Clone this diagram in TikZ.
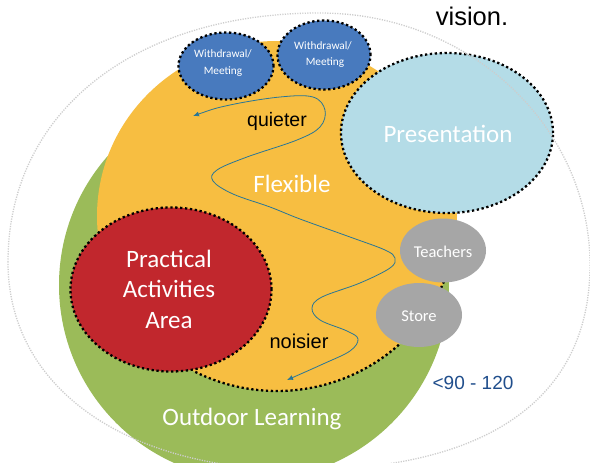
\documentclass[tikz,border=0pt]{standalone}
\usepackage{fontspec}
\setmainfont{Liberation Sans}
\newfontfamily\calib{Carlito}
\usetikzlibrary{shapes.geometric,arrows.meta}
\definecolor{grn}{RGB}{155,187,89}
\definecolor{org}{RGB}{247,190,65}
\definecolor{redc}{RGB}{193,39,45}
\definecolor{bluc}{RGB}{72,122,190}
\definecolor{ltb}{RGB}{180,220,231}
\definecolor{gryc}{RGB}{166,166,166}
\definecolor{numc}{RGB}{32,78,140}
\definecolor{wavec}{RGB}{40,118,150}
\definecolor{dotgray}{RGB}{205,205,205}
\tikzset{
  blob/.style={ellipse, inner sep=0pt},
  dotline/.style={draw=black, line width=2.3pt, dash pattern=on 2.3pt off 2.6pt},
  biglbl/.style={font=\calib\fontsize{25}{30}\selectfont, text=white, anchor=base, inner sep=0pt},
  smalllbl/.style={font=\calib\fontsize{11.3}{13}\selectfont, text=white, anchor=base, inner sep=0pt},
  midlbl/.style={font=\calib\fontsize{16.5}{19}\selectfont, text=white, anchor=base, inner sep=0pt},
  blacklbl/.style={font=\fontsize{19.5}{22}\selectfont, text=black, anchor=base, inner sep=0pt},
  wave/.style={draw=wavec, line width=0.8pt, {Latex[length=6pt,width=5pt]}-{Latex[length=6pt,width=5pt]}},
}
\begin{document}
\begin{tikzpicture}[x=1pt,y=-1pt]
\useasboundingbox (0,0) rectangle (590,463);
\clip (0,0) rectangle (590,463);
\fill[white] (0,0) rectangle (590,463);
% outdoor learning (green)
\node[blob, fill=grn, minimum width=390pt, minimum height=390pt] (outdoor) at (254,285) {};
% flexible (orange)
\node[blob, fill=org, minimum width=360pt, minimum height=350pt] (flexarea) at (277,216) {};
\draw[dotline] (flexarea.center) ++(117:180 and 175) arc[start angle=117, end angle=5, x radius=180, y radius=175];
% areas
\node[blob, fill=redc, dotline, minimum width=201pt, minimum height=164pt] (prac) at (171,289.5) {};
\node[blob, fill=bluc, dotline, minimum width=95pt, minimum height=67pt] (wa) at (226,66) {};
\node[blob, fill=bluc, dotline, minimum width=93pt, minimum height=69pt] (wb) at (324,55) {};
\node[blob, fill=ltb, dotline, minimum width=212pt, minimum height=160pt] (pres) at (447,133) {};
\node[blob, fill=gryc, minimum width=86pt, minimum height=64pt] (teach) at (443,250.5) {};
\node[blob, fill=gryc, minimum width=86pt, minimum height=64pt] (store) at (419,315) {};
% outer dotted boundary
\draw[dotgray, line width=1.3pt, dash pattern=on 1.2pt off 1.3pt] (8,262) .. controls (8,113) and (133,13) .. (320,13) .. controls (468.5,13) and (590,126) .. (590,265) .. controls (590,398) and (488.5,470) .. (300,470) .. controls (124.8,470) and (8,387) .. (8,262) -- cycle;
% quieter / noisier path
\coordinate (qend) at (193,116);
\coordinate (nend) at (287,380);
\draw[wave] plot[smooth, tension=0.6] coordinates {(qend) (230,105) (280,97) (313,97) (325,110) (320,127) (297,140) (247,157) (217,170) (213,181) (233,194) (270,207) (300,219) (350,237) (385,250) (395,258) (390,268) (360,283) (322,297) (312,308) (320,320) (347,331) (358,339) (350,351) (323,364) (nend)};
% labels
\node[smalllbl] (wa1) at (223,57.3) {Withdrawal/};
\node[smalllbl] (wa2) at (223,74.3) {Meeting};
\node[smalllbl] (wb1) at (323,49) {Withdrawal/};
\node[smalllbl] (wb2) at (325,65.7) {Meeting};
\node[biglbl] (prest) at (448,142) {Presentation};
\node[biglbl] (flex) at (292,192) {Flexible};
\node[biglbl] (prac1) at (169,267) {Practical};
\node[biglbl] (prac2) at (169,297.5) {Activities};
\node[biglbl] (prac3) at (169,328) {Area};
\node[biglbl] (outd) at (252,425) {Outdoor Learning};
\node[midlbl] (teacht) at (443,257) {Teachers};
\node[midlbl] (storet) at (419,321) {Store};
\node[blacklbl] (quiet) at (277,126) {quieter};
\node[blacklbl, font=\fontsize{20}{22}\selectfont] (noisy) at (299,348) {noisier};
\node[blacklbl, font=\fontsize{19}{22}\selectfont, text=numc] (cap) at (473,389) {<90 - 120};
\node[blacklbl, font=\fontsize{25.5}{30}\selectfont] (vis) at (472,26) {vision.};
\end{tikzpicture}
\end{document}
